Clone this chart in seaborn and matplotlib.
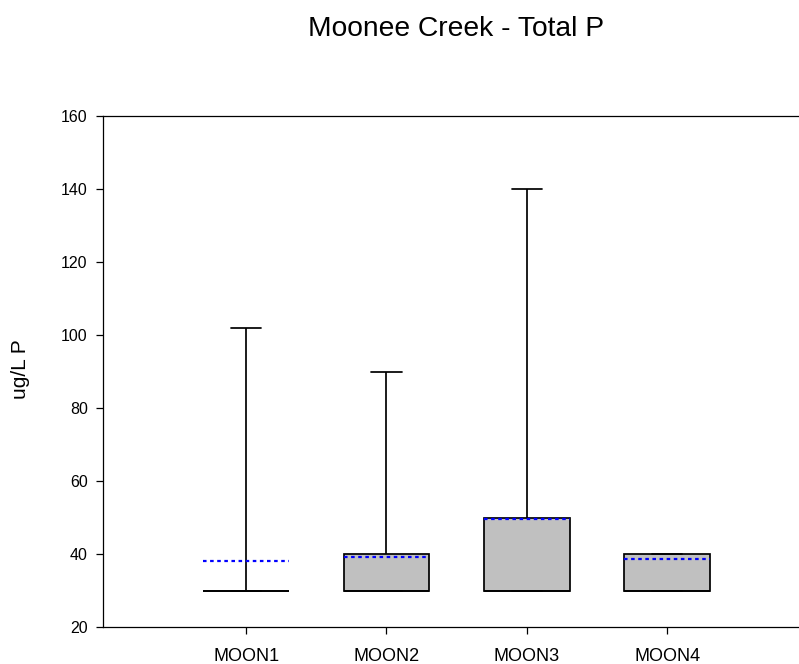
import numpy as np
import pandas as pd
import matplotlib
matplotlib.use("Agg")
import matplotlib.pyplot as plt
import seaborn as sns

# Five-number summaries and means of Total P (ug/L) per site
sites = ["MOON1", "MOON2", "MOON3", "MOON4"]
mins = [30, 30, 30, 30]
q1 = [30, 30, 30, 30]
medians = [30, 30, 30, 30]
q3 = [30, 40, 50, 40]
maxs = [102, 90, 140, 40]
means = [38.0, 39.1, 49.6, 38.7]
y_ticks = [20, 40, 60, 80, 100, 120, 140, 160]

# Long table: with five values per site, linear percentiles land exactly on
# min / Q1 / median / Q3 / max
rows = []
for s, a, b, c, d, e in zip(sites, mins, q1, medians, q3, maxs):
    for v in (a, b, c, d, e):
        rows.append({"site": s, "value": v})
df = pd.DataFrame(rows)

sns.set_style("ticks")
plt.rcParams["font.family"] = ["Liberation Sans", "DejaVu Sans"]
plt.rcParams["text.color"] = "black"
plt.rcParams["xtick.major.size"] = 5
plt.rcParams["ytick.major.size"] = 5
plt.rcParams["xtick.major.width"] = 0.9
plt.rcParams["ytick.major.width"] = 0.9
plt.rcParams["xtick.major.pad"] = 10
plt.rcParams["ytick.major.pad"] = 6
plt.rcParams["axes.linewidth"] = 0.9

fig = plt.figure(figsize=(7.99, 6.64), dpi=100)
ax = fig.add_axes([103 / 799, 37 / 664, 710 / 799, 511 / 664])

box_w = 0.61
sns.boxplot(
    data=df, x="site", y="value", order=sites, ax=ax,
    color="#c0c0c0", saturation=1, linecolor="black", linewidth=1.25,
    width=box_w, whis=(0, 100), showfliers=False, capwidths=0.215,
)

# Dotted blue mean line across each box
for i, m in enumerate(means):
    ax.hlines(m, i - box_w / 2, i + box_w / 2, colors="#0000ff",
              linestyles=(0, (1.6, 1.6)), linewidth=1.6, zorder=5)

ax.set_xlim(-1.02, 4.04)
ax.set_ylim(20, 160)
ax.set_yticks(y_ticks)
ax.set_xlabel("")
ax.set_ylabel("")
ax.tick_params(axis="y", labelsize=11.5, colors="black")
ax.tick_params(axis="x", labelsize=13, colors="black")
for side in ("left", "bottom", "top"):
    ax.spines[side].set_visible(True)
    ax.spines[side].set_color("black")
ax.spines["right"].set_visible(False)

fig.text(456.5 / 799, 1 - 28.5 / 664, "Moonee Creek - Total P",
         ha="center", va="center", fontsize=20.3, color="black")
fig.text(20 / 799, 1 - 369 / 664, "ug/L P", rotation=90,
         ha="center", va="center", fontsize=15, color="black")

fig.savefig("out.png", dpi=100)
